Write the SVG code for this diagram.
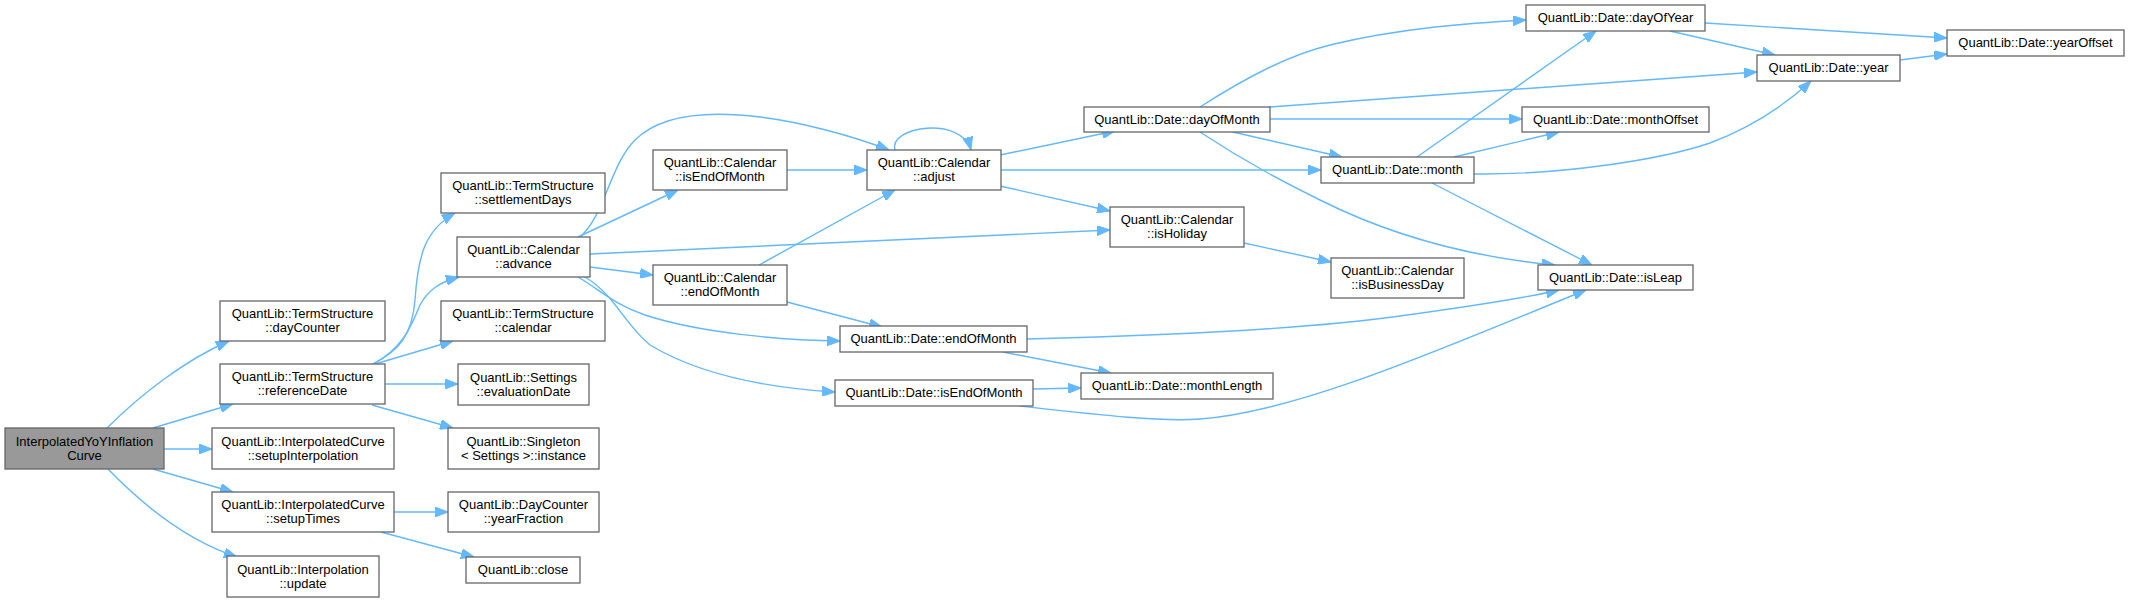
<svg xmlns="http://www.w3.org/2000/svg" width="2129" height="602" viewBox="0 0 2129 602">
<style>
.n rect{fill:#ffffff;stroke:#666666;stroke-width:1.3}
.n.main rect{fill:#999999}
.n text{font-family:"Liberation Sans",Arial,sans-serif;font-size:13px;fill:#000000;text-anchor:middle}
.e path{fill:none;stroke:#63b8ff;stroke-width:1.4;marker-end:url(#arr)}
</style>
<defs>
<marker id="arr" markerUnits="userSpaceOnUse" markerWidth="14" markerHeight="10" refX="13" refY="5" orient="auto">
<path d="M0,0 L13,5 L0,10 z" fill="#63b8ff" stroke="#63b8ff" stroke-width="1"/>
</marker>
</defs>
<rect width="2129" height="602" fill="#ffffff"/>
<g id="connectors" class="e">
<path d="M107,428 C140,395 185,360 229,341"/>
<path d="M153,428 L233,404"/>
<path d="M164,449 L212,449"/>
<path d="M153,469 L233,492"/>
<path d="M108,469 C140,502 185,540 237,557"/>
<path d="M373,364 C400,350 412,335 415,300 C418,255 425,230 455,213"/>
<path d="M373,364 C400,350 410,330 420,305 C428,290 440,282 459,277"/>
<path d="M375,364 L453,341"/>
<path d="M385,384 L458,384"/>
<path d="M372,405 L453,428"/>
<path d="M394,512 L448,512"/>
<path d="M381,532 L474,557"/>
<path d="M580,237 C605,215 610,165 635,140 C665,110 720,112 760,117 C800,122 850,135 889,150"/>
<path d="M578,237 L678,190"/>
<path d="M590,254 L1110,230"/>
<path d="M590,267 L653,275"/>
<path d="M578,277 C600,290 615,305 645,315 C700,333 780,340 840,341"/>
<path d="M585,277 C615,295 625,325 650,345 C700,375 770,388 835,392"/>
<path d="M787,170 L867,170"/>
<path d="M759,265 L895,190"/>
<path d="M787,302 L882,327"/>
<path d="M895,150 C888,126 962,116 971,150"/>
<path d="M1000,155 L1115,131"/>
<path d="M1001,170 L1321,170"/>
<path d="M1000,186 L1110,211"/>
<path d="M1244,243 L1331,262"/>
<path d="M1027,339 C1150,336 1300,330 1400,316 C1480,305 1530,297 1559,290"/>
<path d="M1003,352 L1111,373"/>
<path d="M1033,389 L1081,388"/>
<path d="M1020,406 C1100,415 1160,422 1200,419 C1300,412 1450,345 1586,290"/>
<path d="M1200,107 C1250,75 1290,55 1330,45 C1400,28 1470,23 1526,20"/>
<path d="M1269,107 L1757,72"/>
<path d="M1270,119 L1522,119"/>
<path d="M1233,132 L1342,157"/>
<path d="M1200,132 C1250,165 1290,185 1320,200 C1400,240 1480,258 1555,265"/>
<path d="M1417,157 L1596,31"/>
<path d="M1454,157 L1559,132"/>
<path d="M1474,174 C1560,175 1660,160 1710,143 C1750,128 1785,105 1811,81"/>
<path d="M1432,183 L1592,265"/>
<path d="M1705,23 L1947,38"/>
<path d="M1670,31 L1775,55"/>
<path d="M1900,60 L1947,54"/>
</g>
<g id="node0" class="n main"><rect x="5" y="428" width="159" height="41"/><text x="84.5" y="446">InterpolatedYoYInflation</text><text x="84.5" y="460">Curve</text></g>
<g id="node1" class="n"><rect x="220" y="301" width="165" height="40"/><text x="302.5" y="318">QuantLib::TermStructure</text><text x="302.5" y="332">::dayCounter</text></g>
<g id="node2" class="n"><rect x="220" y="364" width="165" height="40"/><text x="302.5" y="381">QuantLib::TermStructure</text><text x="302.5" y="395">::referenceDate</text></g>
<g id="node3" class="n"><rect x="212" y="428" width="182" height="41"/><text x="303" y="446">QuantLib::InterpolatedCurve</text><text x="303" y="460">::setupInterpolation</text></g>
<g id="node4" class="n"><rect x="212" y="492" width="182" height="40"/><text x="303" y="509">QuantLib::InterpolatedCurve</text><text x="303" y="523">::setupTimes</text></g>
<g id="node5" class="n"><rect x="227" y="556" width="152" height="41"/><text x="303" y="574">QuantLib::Interpolation</text><text x="303" y="588">::update</text></g>
<g id="node6" class="n"><rect x="441" y="173" width="164" height="40"/><text x="523" y="190">QuantLib::TermStructure</text><text x="523" y="204">::settlementDays</text></g>
<g id="node7" class="n"><rect x="457" y="237" width="133" height="40"/><text x="523.5" y="254">QuantLib::Calendar</text><text x="523.5" y="268">::advance</text></g>
<g id="node8" class="n"><rect x="441" y="301" width="164" height="40"/><text x="523" y="318">QuantLib::TermStructure</text><text x="523" y="332">::calendar</text></g>
<g id="node9" class="n"><rect x="458" y="364" width="131" height="41"/><text x="523.5" y="382">QuantLib::Settings</text><text x="523.5" y="396">::evaluationDate</text></g>
<g id="node10" class="n"><rect x="448" y="428" width="151" height="41"/><text x="523.5" y="446">QuantLib::Singleton</text><text x="523.5" y="460">&lt; Settings &gt;::instance</text></g>
<g id="node11" class="n"><rect x="448" y="492" width="151" height="40"/><text x="523.5" y="509">QuantLib::DayCounter</text><text x="523.5" y="523">::yearFraction</text></g>
<g id="node12" class="n"><rect x="466" y="557" width="114" height="26"/><text x="523" y="574">QuantLib::close</text></g>
<g id="node13" class="n"><rect x="653" y="150" width="134" height="40"/><text x="720" y="167">QuantLib::Calendar</text><text x="720" y="181">::isEndOfMonth</text></g>
<g id="node14" class="n"><rect x="653" y="265" width="134" height="40"/><text x="720" y="282">QuantLib::Calendar</text><text x="720" y="296">::endOfMonth</text></g>
<g id="node15" class="n"><rect x="867" y="150" width="134" height="40"/><text x="934" y="167">QuantLib::Calendar</text><text x="934" y="181">::adjust</text></g>
<g id="node16" class="n"><rect x="840" y="326" width="187" height="26"/><text x="933.5" y="343">QuantLib::Date::endOfMonth</text></g>
<g id="node17" class="n"><rect x="835" y="380" width="198" height="26"/><text x="934" y="397">QuantLib::Date::isEndOfMonth</text></g>
<g id="node18" class="n"><rect x="1081" y="373" width="192" height="26"/><text x="1177" y="390">QuantLib::Date::monthLength</text></g>
<g id="node19" class="n"><rect x="1084" y="107" width="186" height="25"/><text x="1177" y="124">QuantLib::Date::dayOfMonth</text></g>
<g id="node20" class="n"><rect x="1110" y="207" width="134" height="40"/><text x="1177" y="224">QuantLib::Calendar</text><text x="1177" y="238">::isHoliday</text></g>
<g id="node21" class="n"><rect x="1331" y="258" width="133" height="40"/><text x="1397.5" y="275">QuantLib::Calendar</text><text x="1397.5" y="289">::isBusinessDay</text></g>
<g id="node22" class="n"><rect x="1321" y="157" width="153" height="26"/><text x="1397.5" y="174">QuantLib::Date::month</text></g>
<g id="node23" class="n"><rect x="1526" y="5" width="179" height="26"/><text x="1615.5" y="22">QuantLib::Date::dayOfYear</text></g>
<g id="node24" class="n"><rect x="1522" y="107" width="187" height="25"/><text x="1615.5" y="124">QuantLib::Date::monthOffset</text></g>
<g id="node25" class="n"><rect x="1538" y="265" width="155" height="25"/><text x="1615.5" y="282">QuantLib::Date::isLeap</text></g>
<g id="node26" class="n"><rect x="1757" y="55" width="143" height="26"/><text x="1828.5" y="72">QuantLib::Date::year</text></g>
<g id="node27" class="n"><rect x="1947" y="30" width="177" height="26"/><text x="2035.5" y="47">QuantLib::Date::yearOffset</text></g>
</svg>
